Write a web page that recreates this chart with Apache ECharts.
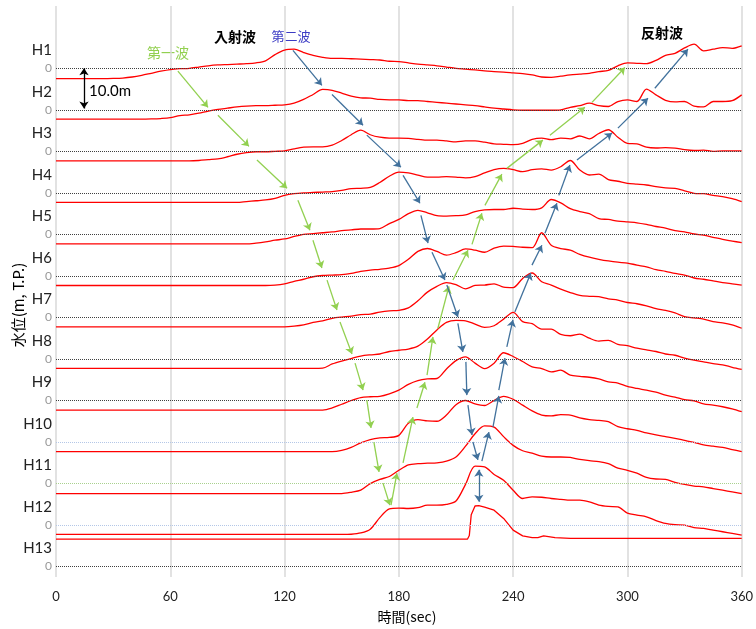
<!DOCTYPE html>
<html>
<head>
<meta charset="utf-8">
<script src="https://cdn.jsdelivr.net/npm/echarts@6/dist/echarts.min.js"></script>
<style>
  html, body { margin: 0; padding: 0; background: #fff; }
  #chart { width: 756px; height: 629px; }
</style>
</head>
<body>
<div id="chart"></div>
<script>
// 時刻 (sec)
const times = [0,5,10,15,20,25,30,35,40,45,50,55,60,65,70,75,80,85,90,95,100,105,110,115,
  120,125,130,135,140,145,150,155,160,165,170,175,180,185,190,195,200,205,210,215,220,225,230,235,
  240,245,250,255,260,265,270,275,280,285,290,295,300,305,310,315,320,325,330,335,340,345,350,355,360];

const stations = ['H1','H2','H3','H4','H5','H6','H7','H8','H9','H10','H11','H12','H13'];
const xTicks = [0, 60, 120, 180, 240, 300, 360];

// 水位 (m) 各地点
const h1 = [-2.5,-2.5,-2.5,-2.5,-2.5,-2.5,-2.45,-2.35,-2.1,-1.7,-1.2,-0.7,
  -0.3,-0.1,0.0,0.3,0.6,0.8,0.9,1.0,1.1,1.3,1.8,3.3,
  4.4,4.6,3.8,3.1,2.65,2.4,2.4,2.3,2.2,2.1,2.0,1.7,
  1.6,1.3,1.0,0.8,0.6,0.3,0.0,-0.2,-0.4,-0.6,-0.8,-0.9,
  -1.1,-1.3,-1.6,-2.1,-2.2,-1.9,-1.6,-1.4,-1.2,-0.8,-0.5,0.6,
  1.3,1.2,1.1,1.9,3.1,3.6,4.9,5.8,4.2,4.6,5.0,4.8,
  5.4];
const h2 = [-2.25,-2.25,-2.25,-2.25,-2.25,-2.25,-2.25,-2.25,-2.25,-2.25,-2.2,-2.1,
  -1.9,-1.4,-1.2,-0.8,-0.3,0.1,0.4,0.7,0.9,1.0,1.0,1.1,
  1.2,1.6,2.5,3.7,4.9,4.7,4.0,3.3,2.9,2.8,2.5,2.4,
  2.4,2.2,2.2,2.0,1.8,1.6,1.4,1.2,1.0,0.7,0.4,0.2,
  0.0,-0.1,-0.1,-0.1,-0.1,0.0,0.6,1.0,1.6,1.0,0.8,2.0,
  2.4,2.0,5.0,3.6,2.3,1.9,2.0,0.9,0.7,2.0,2.0,2.2,
  3.6];
const h3 = [-2.3,-2.3,-2.3,-2.3,-2.3,-2.3,-2.3,-2.3,-2.3,-2.3,-2.3,-2.3,
  -2.3,-2.3,-2.3,-2.2,-2.0,-1.8,-1.3,-0.7,-0.3,-0.1,-0.1,0.0,
  0.1,0.6,1.0,1.1,1.1,1.5,2.6,4.0,5.1,4.0,3.4,3.2,
  3.2,3.1,2.9,2.7,2.7,2.5,2.3,2.5,2.5,2.2,1.8,1.7,
  1.6,1.9,2.9,3.2,2.8,3.2,3.0,3.7,3.0,4.3,5.2,3.4,
  1.9,1.8,1.0,0.8,0.9,0.8,0.4,0.2,0.3,0.0,0.1,0.1,
  0.1];
const h4 = [-2.3,-2.3,-2.3,-2.3,-2.3,-2.3,-2.3,-2.3,-2.3,-2.3,-2.3,-2.3,
  -2.3,-2.3,-2.3,-2.3,-2.3,-2.3,-2.3,-2.3,-2.1,-1.9,-1.7,-1.3,
  -0.6,-0.2,0.0,0.1,0.2,0.3,0.6,1.0,1.1,1.3,2.5,4.0,
  5.0,4.8,4.3,3.8,3.8,3.9,3.8,3.6,3.9,4.8,5.6,5.9,
  5.6,5.1,5.6,5.8,5.5,6.3,7.8,5.5,4.3,4.5,3.2,2.8,
  2.3,2.1,1.9,1.5,1.2,1.1,0.5,-0.1,-0.2,-0.6,-0.9,-1.4,
  -2.1];
const h5 = [-2.3,-2.3,-2.3,-2.3,-2.3,-2.3,-2.3,-2.3,-2.3,-2.3,-2.3,-2.3,
  -2.3,-2.3,-2.3,-2.3,-2.3,-2.3,-2.3,-2.3,-2.3,-2.1,-1.8,-1.4,
  -1.1,-0.5,0.0,0.2,0.4,0.6,0.9,1.1,1.3,1.3,1.4,2.6,
  3.6,5.0,5.8,5.2,4.5,4.4,4.5,4.7,5.5,5.9,6.0,6.0,
  6.3,6.1,6.0,6.4,8.4,7.6,6.2,5.5,5.0,3.8,3.6,3.2,
  3.0,2.8,2.4,1.9,1.5,0.9,0.6,0.1,-0.2,-0.7,-1.2,-1.6,
  -2.0];
const h6 = [-2.3,-2.3,-2.3,-2.3,-2.3,-2.3,-2.3,-2.3,-2.3,-2.3,-2.3,-2.3,
  -2.3,-2.3,-2.3,-2.3,-2.3,-2.3,-2.3,-2.3,-2.3,-2.3,-2.3,-2.2,
  -1.9,-1.3,-0.8,-0.2,0.1,0.2,0.3,0.6,1.1,1.4,1.6,1.9,
  2.5,4.0,5.9,6.6,5.9,5.0,5.6,6.5,6.2,5.7,6.7,7.2,
  7.1,6.9,6.8,10.4,7.4,6.6,6.2,5.2,4.5,4.0,3.6,3.3,
  3.1,2.6,2.2,1.5,1.1,0.6,0.2,-0.5,-0.8,-1.2,-1.6,-1.9,
  -2.2];
const h7 = [-2.25,-2.25,-2.25,-2.25,-2.25,-2.25,-2.25,-2.25,-2.25,-2.25,-2.25,-2.25,
  -2.25,-2.25,-2.25,-2.25,-2.25,-2.25,-2.25,-2.25,-2.25,-2.25,-2.25,-2.25,
  -2.25,-2.1,-1.8,-1.2,-0.8,-0.2,0.1,0.3,0.7,0.8,1.3,1.6,
  1.7,2.3,4.0,6.1,7.5,8.4,7.9,6.9,7.7,7.8,8.1,7.3,
  7.2,9.4,10.7,8.6,7.8,6.8,6.0,5.3,5.1,5.0,4.5,4.2,
  3.6,3.3,2.8,2.1,1.7,1.1,0.2,-0.1,-0.4,-1.0,-1.3,-1.8,
  -2.6];
const h8 = [-2.25,-2.25,-2.25,-2.25,-2.25,-2.25,-2.25,-2.25,-2.25,-2.25,-2.25,-2.25,
  -2.25,-2.25,-2.25,-2.25,-2.25,-2.25,-2.25,-2.25,-2.25,-2.25,-2.25,-2.25,
  -2.25,-2.25,-2.25,-2.25,-2.2,-1.2,-0.5,0.1,0.7,1.0,1.2,1.8,
  2.1,2.4,3.1,4.8,7.0,8.8,9.3,9.2,8.4,7.6,8.0,9.6,
  11.2,9.0,8.5,7.2,7.2,5.9,5.6,6.0,5.0,4.3,4.5,3.5,
  3.2,2.6,2.2,1.8,1.2,0.9,0.2,-0.3,-0.7,-1.1,-1.4,-2.0,
  -2.5];
const h9 = [-2.3,-2.3,-2.3,-2.3,-2.3,-2.3,-2.3,-2.3,-2.3,-2.3,-2.3,-2.3,
  -2.3,-2.3,-2.3,-2.3,-2.3,-2.3,-2.3,-2.3,-2.3,-2.3,-2.3,-2.3,
  -2.3,-2.3,-2.3,-2.3,-2.3,-1.8,-0.9,0.0,0.7,0.9,1.0,1.6,
  2.5,3.9,4.8,5.2,5.3,7.6,9.6,10.5,9.0,7.7,9.0,11.5,
  10.6,9.4,8.1,7.7,6.9,7.3,6.1,5.8,5.6,5.2,4.5,4.2,
  3.4,2.9,2.5,2.0,1.3,0.8,0.2,-0.1,-0.8,-1.1,-1.5,-2.0,
  -2.7];
const h10 = [-2.3,-2.3,-2.3,-2.3,-2.3,-2.3,-2.3,-2.3,-2.3,-2.3,-2.3,-2.3,
  -2.3,-2.3,-2.3,-2.3,-2.3,-2.3,-2.3,-2.3,-2.3,-2.3,-2.3,-2.3,
  -2.3,-2.3,-2.3,-2.3,-2.3,-2.3,-2.0,-1.3,-0.2,0.6,1.0,1.1,
  1.6,4.5,5.4,5.1,5.0,6.5,9.0,10.0,9.2,8.8,10.0,11.0,
  10.3,8.9,7.5,6.5,6.3,6.6,6.5,5.8,5.4,5.2,4.9,3.7,
  3.2,2.8,2.2,1.7,1.3,0.9,0.4,-0.1,-0.7,-1.0,-1.3,-1.8,
  -2.3];
const h11 = [-2.4,-2.4,-2.4,-2.4,-2.4,-2.4,-2.4,-2.4,-2.4,-2.4,-2.4,-2.4,
  -2.4,-2.4,-2.4,-2.4,-2.4,-2.4,-2.4,-2.4,-2.4,-2.4,-2.4,-2.4,
  -2.4,-2.4,-2.4,-2.4,-2.4,-2.4,-2.4,-2.1,-1.6,0.0,1.0,1.7,
  3.2,4.5,4.8,4.9,5.0,5.4,6.4,9.0,12.0,13.9,13.6,11.3,
  9.2,7.9,7.3,6.6,6.4,6.4,6.3,5.8,5.5,5.3,4.8,3.7,
  3.2,2.5,1.5,1.1,1.0,0.3,-0.2,-0.6,-0.8,-1.2,-1.6,-2.0,
  -2.4];
const h12 = [-2.25,-2.25,-2.25,-2.25,-2.25,-2.25,-2.25,-2.25,-2.25,-2.25,-2.25,-2.25,
  -2.25,-2.25,-2.25,-2.25,-2.25,-2.25,-2.25,-2.25,-2.25,-2.25,-2.25,-2.25,
  -2.25,-2.25,-2.25,-2.25,-2.25,-2.25,-2.25,-2.2,-1.9,-1.0,1.8,3.9,
  4.1,4.0,4.2,4.8,4.8,5.0,5.8,9.8,14.2,14.0,12.2,10.8,
  8.4,6.4,6.8,6.7,6.4,6.2,6.0,6.0,5.6,4.8,4.5,4.4,
  2.9,2.4,2.0,1.1,0.4,0.1,0.0,-0.6,-0.8,-1.2,-1.6,-2.0,
  -2.4];
// H13 は段差が急なので個別の時刻
const h13Times = [0,216,217,218,220,222,225,230,235,240,245,250,253,256,262,270,360];
const h13Level = [6.6,6.6,7.5,12.5,14.6,14.7,14.3,13.6,11.6,8.8,7.4,7.0,7.0,7.4,7.0,6.8,6.8];

const levels = [h1, h2, h3, h4, h5, h6, h7, h8, h9, h10, h11, h12];
const ROW_STEP = 10; // 各段の間隔 (m)

// 矢印 [時刻, 表示上の水位]
const firstWaveArrows = [
  [[64.0,-0.7],[79.8,-9.4]], [[85.0,-11.3],[101.3,-18.8]], [[105.5,-22.1],[121.3,-28.9]],
  [[127.0,-31.8],[133.3,-39.0]], [[134.9,-41.4],[139.6,-48.1]], [[142.3,-51.0],[147.5,-58.2]],
  [[149.1,-61.1],[155.4,-68.8]], [[157.0,-71.0],[161.2,-77.5]], [[163.2,-79.9],[165.4,-86.6]],
  [[166.9,-90.0],[169.6,-97.2]], [[171.7,-99.9],[175.3,-105.2]],
  [[175.9,-105.2],[179.0,-97.5]], [[182.2,-95.0],[187.4,-84.0]], [[189.5,-81.8],[193.7,-75.6]],
  [[194.8,-73.9],[197.9,-64.7]], [[200.5,-62.6],[206.3,-52.5]], [[208.4,-51.0],[216.3,-43.8]],
  [[218.4,-42.4],[223.6,-34.9]], [[225.2,-33.0],[234.1,-25.5]], [[236.7,-24.1],[255.6,-17.3]],
  [[259.3,-16.1],[277.7,-9.4]], [[281.4,-8.2],[298.7,0.2]]
];
const secondWaveArrows = [
  [[124.4,4.3],[139.6,-4.1]], [[144.9,-6.3],[161.2,-13.7]], [[163.2,-16.1],[181.1,-23.8]],
  [[182.2,-25.8],[191.1,-32.5]], [[191.6,-35.4],[195.3,-42.1]], [[197.4,-44.3],[204.2,-51.0]],
  [[205.2,-52.2],[211.0,-59.9]], [[211.0,-61.4],[213.6,-68.3]], [[215.2,-70.7],[215.7,-78.7]],
  [[216.3,-81.1],[218.4,-88.3]], [[218.9,-90.0],[221.5,-94.3]],
  [[223.6,-94.6],[227.3,-87.6]], [[229.4,-86.4],[232.5,-78.9]], [[232.5,-77.5],[235.7,-69.8]],
  [[236.7,-67.1],[239.9,-60.6]], [[240.9,-58.7],[249.3,-49.3]], [[249.9,-47.4],[255.1,-42.6]],
  [[256.7,-39.7],[263.0,-32.5]], [[264.0,-30.6],[269.8,-23.3]], [[273.5,-22.1],[291.9,-15.6]],
  [[295.0,-14.4],[310.8,-7.2]], [[314.4,-4.8],[331.8,4.6]]
];
const doubleArrow = [[222.0,-96.7],[222.0,-104.4]];
const scaleArrow = [[14.7,0],[14.7,-9.7]];

const zeroLineColors = ['#404040','#404040','#404040','#404040','#404040','#404040','#404040',
  '#404040','#404040','#b4c7e7','#a9d18e','#b4c7e7','#404040'];

const latin = 'Lato, "Noto Sans CJK JP", sans-serif';
const cjk = '"Noto Sans CJK JP", sans-serif';

const series = [];
stations.forEach(function (name, k) {
  const base = -ROW_STEP * k;
  let pts;
  if (k < levels.length) {
    pts = times.map(function (t, i) { return [t, levels[k][i] + base]; });
  } else {
    pts = h13Times.map(function (t, i) { return [t, h13Level[i] + base]; });
  }
  series.push({
    name: name,
    type: 'line',
    data: pts,
    showSymbol: false,
    symbol: 'none',
    smooth: k < levels.length ? 0.3 : false,
    lineStyle: { color: '#ff0000', width: 1.3 },
    z: 3,
    markLine: {
      silent: true,
      symbol: 'none',
      data: [{ yAxis: base }],
      lineStyle: { type: 'dotted', color: zeroLineColors[k], width: 1 },
      label: { show: true, position: 'start', formatter: '0', color: '#999', fontSize: 12, fontFamily: latin, distance: 4 }
    },
    markPoint: {
      silent: true,
      symbol: 'circle',
      symbolSize: 0,
      data: [{ coord: [0, base] }],
      label: { show: true, position: 'left', distance: 4, offset: [0, -18], formatter: name, color: '#222', fontSize: 15, fontFamily: latin }
    }
  });
});

function arrowSeries(list, color, ends) {
  return {
    type: 'lines',
    coordinateSystem: 'cartesian2d',
    silent: true,
    symbol: ends,
    symbolSize: 7,
    lineStyle: { color: color, width: 1.3, opacity: 1, curveness: 0 },
    data: list.map(function (c) { return { coords: c }; }),
    z: 5
  };
}
series.push(arrowSeries(firstWaveArrows, '#92d050', ['none', 'arrow']));
series.push(arrowSeries(secondWaveArrows, '#41719c', ['none', 'arrow']));
series.push(arrowSeries([doubleArrow], '#41719c', ['arrow', 'arrow']));
series.push(arrowSeries([scaleArrow], '#000000', ['arrow', 'arrow']));

function label(text, x, y, opts) {
  return Object.assign({
    type: 'text', x: x, y: y, silent: true,
    style: Object.assign({
      text: text, fill: '#000', font: '14px ' + cjk,
      textAlign: 'center', textVerticalAlign: 'middle', align: 'center', verticalAlign: 'middle'
    }, opts || {})
  });
}

const chart = echarts.init(document.getElementById('chart'));
chart.setOption({
  animation: false,
  backgroundColor: '#fff',
  grid: { left: 56, right: 14, top: 6, bottom: 52 },
  xAxis: {
    type: 'value',
    min: xTicks[0],
    max: xTicks[xTicks.length - 1],
    interval: 60,
    axisLine: { show: false },
    axisTick: { show: false },
    axisLabel: { color: '#222', fontSize: 13, fontFamily: latin, margin: 13 },
    splitLine: { show: true, lineStyle: { color: '#d9d9d9', width: 1.5 } }
  },
  yAxis: {
    type: 'value',
    min: -122.5,
    max: 15,
    show: false
  },
  graphic: [
    label('入射波', 235, 37, { font: 'bold 14px ' + cjk }),
    label('第二波', 291, 36, { fill: '#3b3bc4', font: '13px ' + cjk }),
    label('第一波', 168, 53, { fill: '#92d050', font: '14px ' + cjk }),
    label('反射波', 662, 33, { font: 'bold 14px ' + cjk }),
    label('10.0m', 110, 91, { font: '15px ' + latin }),
    label('時間(sec)', 407, 617, { font: '14px ' + cjk }),
    {
      type: 'text', x: 18, y: 305, rotation: Math.PI / 2, silent: true,
      style: {
        text: '水位(m, T.P.)', fill: '#000', font: '15px ' + cjk,
        textAlign: 'center', textVerticalAlign: 'middle', align: 'center', verticalAlign: 'middle'
      }
    }
  ],
  series: series
});
</script>
</body>
</html>
